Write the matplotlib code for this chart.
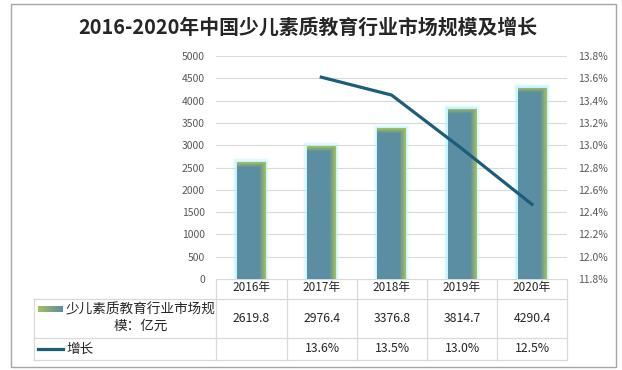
import numpy as np
import matplotlib
matplotlib.use('Agg')
import matplotlib.pyplot as plt
from matplotlib.patches import Rectangle
from matplotlib.lines import Line2D

plt.rcParams['font.family'] = ['Noto Sans CJK SC', 'DejaVu Sans']

# Data
years = ['2016年', '2017年', '2018年', '2019年', '2020年']
market = [2619.8, 2976.4, 3376.8, 3814.7, 4290.4]
growth = [np.nan, 13.61, 13.45, 12.97, 12.47]
growth_labels = ['', '13.6%', '13.5%', '13.0%', '12.5%']
bar_label = '少儿素质教育行业市场规\n模：亿元'
line_label = '增长'

W, H = 622, 370
teal = np.array([0x5b, 0x8e, 0xa2]) / 255
green = np.array([0xa6, 0xc0, 0x5a]) / 255
line_color = '#1b5e7b'
tick_color = '#595959'
grid_color = '#d9d9d9'

fig = plt.figure(figsize=(W / 100, H / 100), dpi=100)

# pixel helper axes for border and table
bg = fig.add_axes([0, 0, 1, 1])
bg.axis('off')
bg.add_patch(Rectangle((11, 4), 605, 363, fill=False, ec='#a6a6a6', lw=1))

# main chart area
left, right, top, bottom = 216, 567, 56, 279
ax = fig.add_axes([left / W, 1 - bottom / H, (right - left) / W, (bottom - top) / H])
x = np.arange(len(years))
bw = 0.4

# glow behind bars
px_x = 5 / (right - left)
px_y = 5000 / (bottom - top)
for k, a in [(4, 0.15), (2.8, 0.3), (1.6, 0.6)]:
    ax.bar(x, np.array(market) + k * px_y, width=bw + 2 * k * px_x,
           color='#b4f4ff', alpha=a, lw=0, zorder=2)

# gradient bars
for xi, v in zip(x, market):
    nx, ny = 40, 200
    gx = np.linspace(0, 1, nx)
    gy = np.linspace(0, v, ny)
    tx = np.clip((gx - 0.78) / 0.22, 0, 1)
    ty = np.clip((gy - (v - 110)) / 110, 0, 1)
    t = np.maximum(tx[None, :], ty[:, None])[..., None]
    img = teal * (1 - t) + green * t
    im = ax.imshow(img, origin='lower', extent=[xi - bw / 2, xi + bw / 2, 0, v],
                   aspect='auto', zorder=3, interpolation='bilinear')
    clip = Rectangle((xi - bw / 2, 0), bw, v, transform=ax.transData)
    im.set_clip_path(clip)

ax.set_xlim(-0.5, len(years) - 0.5)
ax.set_ylim(0, 5000)
ax.set_yticks(np.arange(0, 5001, 500))
ax.set_xticks([])
ax.grid(axis='y', color=grid_color, lw=0.8, zorder=0)
ax.set_axisbelow(True)
for s in ax.spines.values():
    s.set_visible(False)
ax.tick_params(axis='y', length=0, pad=8, labelsize=7.5, labelcolor=tick_color)

ax2 = ax.twinx()
ax2.plot(x, growth, color=line_color, lw=2.3, zorder=5)
ax2.set_ylim(11.8, 13.8)
ax2.set_yticks(np.arange(11.8, 13.81, 0.2))
ax2.set_yticklabels(['%.1f%%' % v for v in np.arange(11.8, 13.81, 0.2)])
for s in ax2.spines.values():
    s.set_visible(False)
ax2.tick_params(axis='y', length=0, pad=8, labelsize=7.5, labelcolor=tick_color)

# title
fig.text(308 / W, 1 - 27 / H, '2016-2020年中国少儿素质教育行业市场规模及增长',
         ha='center', va='center', fontsize=14.3, fontweight='bold', color='#262626')

# data table
cols = [216, 287, 357, 427, 497, 567]
rows = [279, 299, 338, 360]
tl = dict(color=grid_color, lw=0.9)
bg.add_line(Line2D([216, 567], [279, 279], **tl))
for yy in rows[1:]:
    bg.add_line(Line2D([34, 567], [yy, yy], **tl))
bg.add_line(Line2D([34, 34], [299, 360], **tl))
for cx in cols:
    bg.add_line(Line2D([cx, cx], [279, 360], **tl))

fs = 8.8
tc = '#262626'
for i in range(len(years)):
    cx = (cols[i] + cols[i + 1]) / 2
    bg.text(cx, 288, years[i], ha='center', va='center', fontsize=8.5, color=tc)
    bg.text(cx, 319, '%.1f' % market[i], ha='center', va='center', fontsize=fs, color=tc)
    bg.text(cx, 349, growth_labels[i], ha='center', va='center', fontsize=fs, color=tc)

# legend keys in table
grad = np.linspace(0, 1, 30)
key = green * (1 - grad[:, None]) + teal * grad[:, None]
bg.imshow(key[None, :, :].repeat(10, axis=0), extent=[38, 63, 312, 306],
          aspect='auto', interpolation='bilinear')
bg.set_xlim(0, W)
bg.set_ylim(H, 0)
bg.add_line(Line2D([38, 63], [349, 349], color=line_color, lw=2.3))
bg.text(66, 318, bar_label, ha='left', va='center', fontsize=9.8, color=tc,
        multialignment='center', linespacing=1.2)
bg.text(66, 349, line_label, ha='left', va='center', fontsize=9.8, color=tc)

fig.savefig('out.png', dpi=100)
